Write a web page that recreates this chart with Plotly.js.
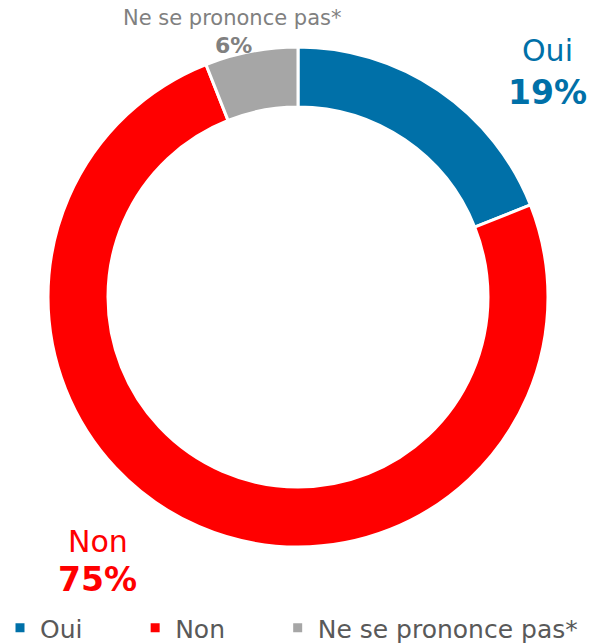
<!DOCTYPE html>
<html>
<head>
<meta charset="utf-8">
<script src="https://cdn.plot.ly/plotly-3.0.1.min.js"></script>
<style>html,body{margin:0;padding:0;background:#fff;overflow:hidden;}#chart{width:593px;height:651px;}</style>
</head>
<body>
<div id="chart"></div>
<script>
const categories = ["Oui", "Non", "Ne se prononce pas*"];
const values = [19, 75, 6];
const percentLabels = ["19%", "75%", "6%"];
const colors = ["#0070A8", "#FF0000", "#A6A6A6"];
const labelColors = ["#0070A8", "#FF0000", "#808080"];

const W = 593, H = 651;
// legend spacing: pad the legend entry names with non-breaking spaces (display only)
const legendPad = [6, 6, 0];
const legendLabels = categories.map((c, i) => c + "\u00a0".repeat(legendPad[i]));

const trace = {
  type: "pie",
  labels: legendLabels,
  values: values,
  sort: false,
  direction: "clockwise",
  rotation: 0,
  hole: 0.76,
  textinfo: "none",
  hoverinfo: "label+percent",
  marker: { colors: colors, line: { color: "#FFFFFF", width: 3 } },
  domain: { x: [48 / W, 548 / W], y: [1 - 547 / H, 1 - 47 / H] }
};

const font = "DejaVu Sans, Verdana, sans-serif";
const annotations = [
  { text: categories[0], x: 547 / W, y: 1 - 51 / H, font: { size: 30, color: labelColors[0] } },
  { text: "<b>" + percentLabels[0] + "</b>", x: 547 / W, y: 1 - 92 / H, font: { size: 33, color: labelColors[0] } },
  { text: categories[1], x: 97.5 / W, y: 1 - 541 / H, font: { size: 30, color: labelColors[1] } },
  { text: "<b>" + percentLabels[1] + "</b>", x: 97.5 / W, y: 1 - 579 / H, font: { size: 33, color: labelColors[1] } },
  { text: categories[2], x: 232 / W, y: 1 - 18 / H, font: { size: 21, color: labelColors[2] } },
  { text: "<b>" + percentLabels[2] + "</b>", x: 233 / W, y: 1 - 45 / H, font: { size: 22, color: labelColors[2] } }
].map(a => Object.assign({ xref: "paper", yref: "paper", showarrow: false, xanchor: "center", yanchor: "middle" }, a));

const layout = {
  width: W, height: H,
  margin: { l: 0, r: 0, t: 0, b: 0 },
  paper_bgcolor: "#FFFFFF",
  font: { family: font },
  showlegend: true,
  legend: {
    orientation: "h",
    x: 0, y: 0, xanchor: "left", yanchor: "bottom",
    bgcolor: "rgba(0,0,0,0)",
    font: { size: 25, color: "#595959", family: font },
    itemwidth: 30,
    traceorder: "normal"
  },
  annotations: annotations
};

Plotly.newPlot("chart", [trace], layout, { displayModeBar: false, staticPlot: true });
</script>
</body>
</html>
